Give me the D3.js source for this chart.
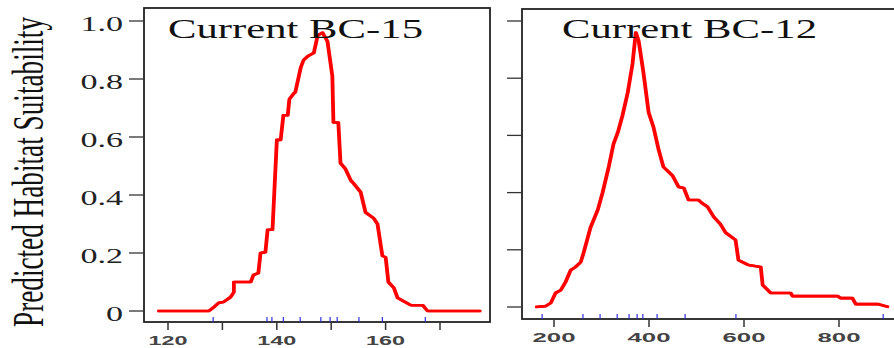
<!DOCTYPE html>
<html>
<head>
<meta charset="utf-8">
<script src="https://cdn.jsdelivr.net/npm/d3@7"></script>
<style>
	html, body { margin: 0; padding: 0; background: #fff; overflow: hidden; }
	svg { display: block; }
</style>
</head>
<body>
<svg id="chart" width="894" height="348"></svg>
<script>
// response curve for BC-15 (left panel)
const bc15X = [118, 127.4, 128.3, 129.2, 130.1, 131.4, 132.0, 132.0, 135.1, 135.6, 136.5, 136.9,
	137.8, 138.2, 139.1, 139.9, 140.6, 141.1, 141.9, 142.2, 143.0, 143.3, 144.3, 144.8, 145.7,
	146.7, 147.4, 148.3, 149.2, 150.1, 150.3, 151.2, 151.6, 152.5, 153.5, 154.0, 155.3, 156.2,
	157.7, 158.4, 159.3, 159.9, 160.4, 161.4, 162.1, 164.5, 166.7, 167.6, 177.4]
const bc15Y = [0, 0, 0.013, 0.028, 0.031, 0.048, 0.065, 0.10, 0.10, 0.124, 0.131, 0.20,
	0.203, 0.28, 0.28, 0.59, 0.59, 0.675, 0.675, 0.73, 0.75, 0.755, 0.84, 0.865, 0.88,
	0.89, 0.95, 0.96, 0.93, 0.81, 0.65, 0.65, 0.51, 0.49, 0.45, 0.44, 0.41, 0.34,
	0.32, 0.30, 0.19, 0.185, 0.10, 0.08, 0.045, 0.02, 0.02, 0, 0]
const bc15Rug = [128.3, 138.2, 139.1, 141.2, 144.3, 148.1, 149.8, 151.1, 155.1, 159.4, 167.3]
const bc15Ticks = [120, 130, 140, 150, 160, 170]
const bc15Labels = [120, 140, 160]

// response curve for BC-12 (right panel)
const bc12X = [160, 181, 192, 202, 213, 223, 234, 244, 255, 261, 276, 291, 301, 314, 324,
	333, 343, 354, 364, 371, 377, 387, 398, 408, 419, 429, 448, 461, 472, 482, 503, 509,
	522, 535, 549, 560, 581, 587, 608, 634, 638, 655, 697, 701, 796, 802, 827, 834, 882, 903]
const bc12Y = [0, 0.003, 0.014, 0.049, 0.059, 0.087, 0.129, 0.14, 0.157, 0.189, 0.28, 0.34,
	0.40, 0.49, 0.57, 0.61, 0.67, 0.75, 0.85, 0.96, 0.93, 0.82, 0.68, 0.63, 0.55, 0.49,
	0.46, 0.42, 0.416, 0.374, 0.374, 0.365, 0.35, 0.315, 0.29, 0.26, 0.234, 0.164, 0.147,
	0.14, 0.077, 0.049, 0.049, 0.038, 0.038, 0.031, 0.031, 0.01, 0.01, 0]
const bc12Rug = [175, 261, 297, 333, 358, 375, 387, 417, 476, 583, 893]
const bc12Ticks = [200, 400, 600, 800]
const bc12Labels = [200, 400, 600, 800]

const yTicks = [0, 0.2, 0.4, 0.6, 0.8, 1.0]
const yTickLabels = ['0', '0.2', '0.4', '0.6', '0.8', '1.0']

const svg = d3.select('#chart')

function drawPanel(p) {
	let g = svg.append('g')
	let x = d3.scaleLinear().domain(p.xDomain).range(p.xRange)
	let y = d3.scaleLinear().domain([0, 1]).range(p.yRange)

	// frame
	g.append('rect')
		.attr('x', p.box[0])
		.attr('y', p.box[1])
		.attr('width', p.box[2] - p.box[0])
		.attr('height', p.box[3] - p.box[1])
		.attr('fill', 'none')
		.attr('stroke', '#222')
		.attr('stroke-width', 1.8)

	// y ticks, outside the frame
	g.selectAll('.ytick')
		.data(yTicks)
		.enter().append('line')
		.attr('x1', p.box[0] - 15)
		.attr('x2', p.box[0])
		.attr('y1', d => y(d))
		.attr('y2', d => y(d))
		.attr('stroke', '#333')
		.attr('stroke-width', 1.3)

	if (p.yLabels) {
		g.selectAll('.ylab')
			.data(yTicks)
			.enter().append('text')
			.attr('transform', d => `translate(${p.box[0] - 21},${y(d) + 10}) scale(1.55,1)`)
			.attr('text-anchor', 'end')
			.style('font-family', '"Liberation Serif", "Times New Roman", serif')
			.style('font-size', '22px')
			.attr('fill', '#222')
			.text((d, i) => yTickLabels[i])
	}

	// x ticks below the frame
	g.selectAll('.xtick')
		.data(p.ticks)
		.enter().append('line')
		.attr('x1', d => x(d))
		.attr('x2', d => x(d))
		.attr('y1', p.box[3])
		.attr('y2', p.box[3] + 8)
		.attr('stroke', '#333')
		.attr('stroke-width', 1.5)

	g.selectAll('.xlab')
		.data(p.labels)
		.enter().append('text')
		.attr('x', d => x(d))
		.attr('y', p.box[3] + 23)
		.attr('text-anchor', 'middle')
		.attr('textLength', p.labelWidth)
		.attr('lengthAdjust', 'spacingAndGlyphs')
		.style('font-family', '"Liberation Sans", Arial, sans-serif')
		.style('font-size', '13px')
		.style('font-weight', 'bold')
		.attr('fill', '#444')
		.text(d => d)

	// rug of occurrence values
	g.selectAll('.rug')
		.data(p.rug)
		.enter().append('line')
		.attr('x1', d => x(d))
		.attr('x2', d => x(d))
		.attr('y1', p.box[3] - 5)
		.attr('y2', p.box[3])
		.attr('stroke', '#3030e0')
		.attr('stroke-width', 1.2)

	// response curve
	let pts = p.xs.map((v, i) => [v, p.ys[i]])
	let line = d3.line().x(d => x(d[0])).y(d => y(d[1]))
	;[0, 1.2].forEach(dx => {
		g.append('path')
			.datum(pts)
			.attr('d', line)
			.attr('transform', `translate(${dx},0)`)
			.attr('fill', 'none')
			.attr('stroke', '#ff0000')
			.attr('stroke-width', 2.6)
			.attr('stroke-linejoin', 'round')
	})

	// title
	g.append('text')
		.attr('x', p.titleX)
		.attr('y', 38)
		.attr('textLength', 255)
		.attr('lengthAdjust', 'spacingAndGlyphs')
		.style('font-family', '"Liberation Serif", "Times New Roman", serif')
		.style('font-size', '27px')
		.attr('fill', '#111')
		.text(p.title)
}

drawPanel({
	title: 'Current BC-15', titleX: 168,
	box: [144, 8, 490, 322],
	xDomain: [120, 170], xRange: [168, 440],
	yRange: [311, 21],
	xs: bc15X, ys: bc15Y, rug: bc15Rug,
	ticks: bc15Ticks, labels: bc15Labels, labelWidth: 39,
	yLabels: true
})

drawPanel({
	title: 'Current BC-12', titleX: 562,
	box: [522, 9, 905, 319],
	xDomain: [200, 800], xRange: [554, 839],
	yRange: [307, 21],
	xs: bc12X, ys: bc12Y, rug: bc12Rug,
	ticks: bc12Ticks, labels: bc12Labels, labelWidth: 43,
	yLabels: false
})

// shared y axis title, tall and narrow like the original
svg.append('text')
	.attr('transform', 'translate(43,172) scale(1.6,1) rotate(-90)')
	.attr('text-anchor', 'middle')
	.attr('textLength', 310)
	.attr('lengthAdjust', 'spacingAndGlyphs')
	.style('font-family', '"Liberation Serif", "Times New Roman", serif')
	.style('font-size', '28px')
	.attr('fill', '#111')
	.text('Predicted Habitat Suitability')
</script>
</body>
</html>
